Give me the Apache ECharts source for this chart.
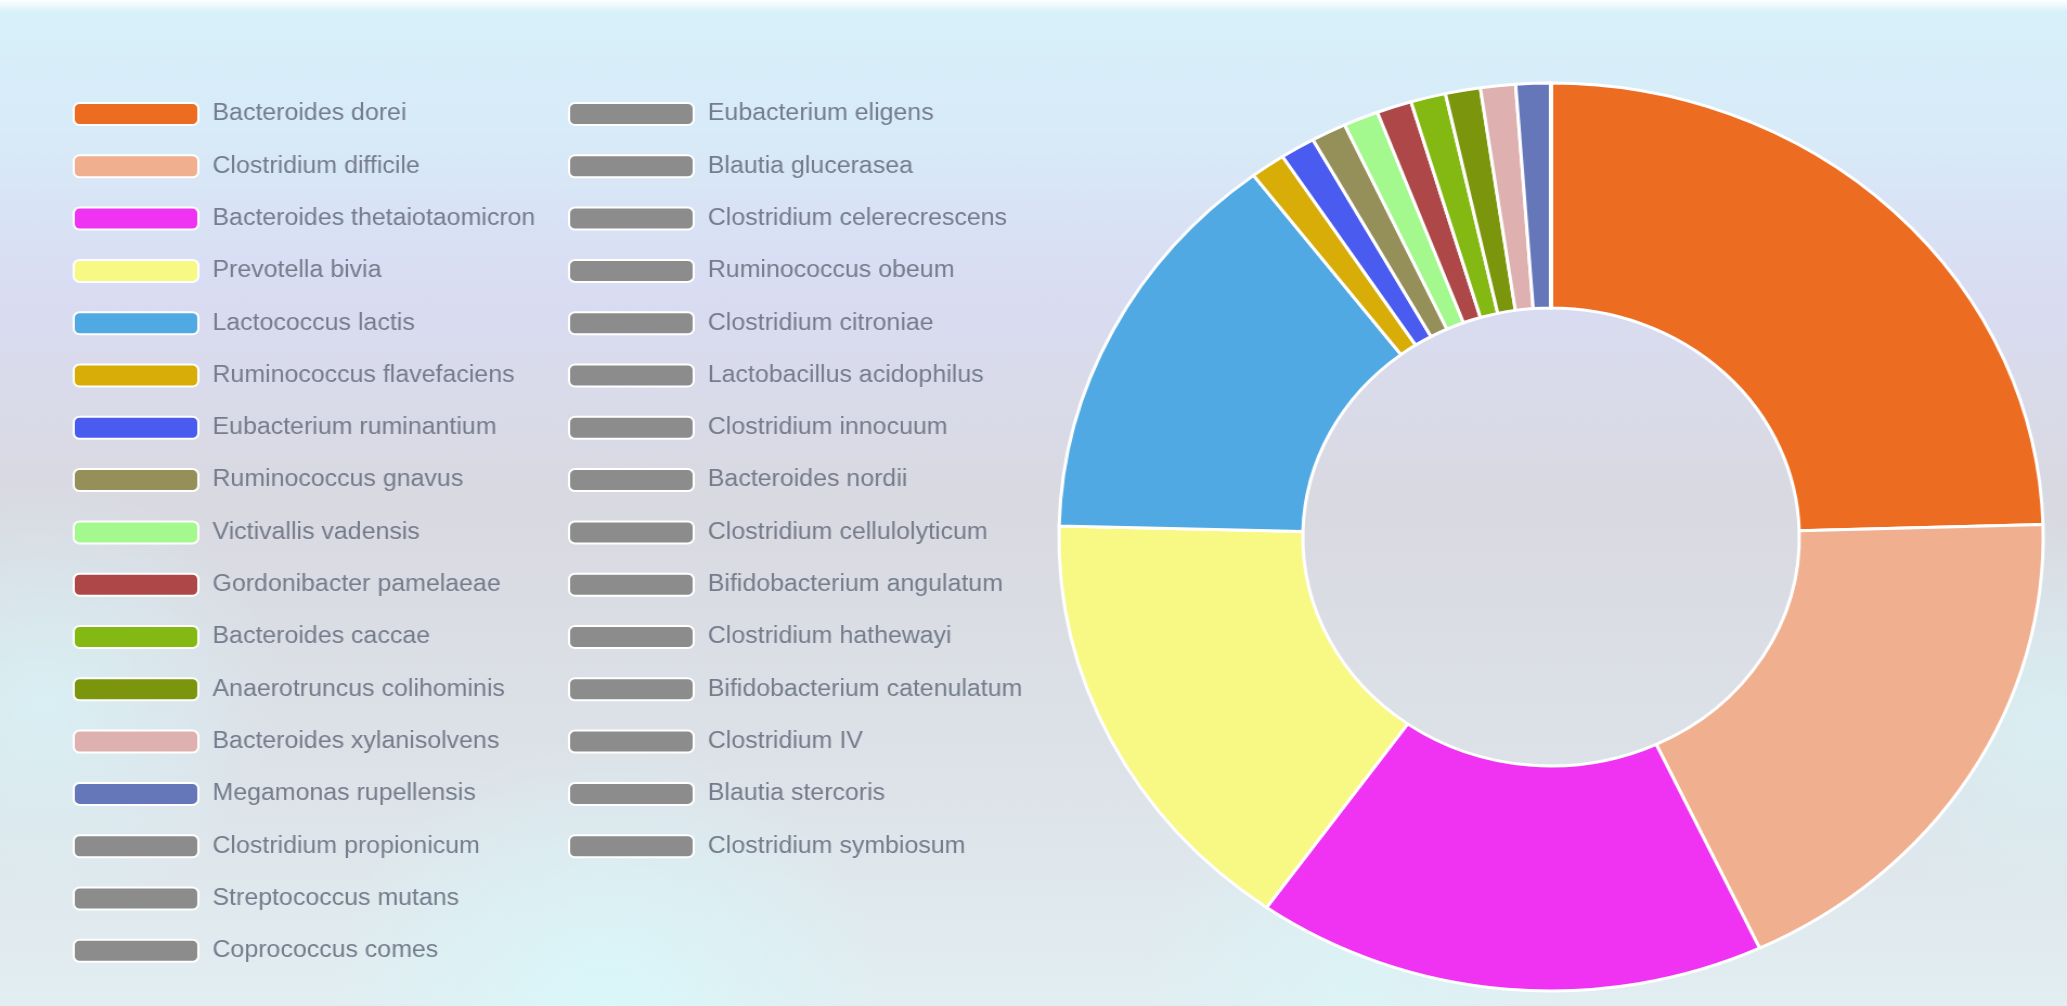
<!DOCTYPE html>
<html>
<head>
<meta charset="utf-8">
<script src="https://cdn.jsdelivr.net/npm/echarts@6/dist/echarts.min.js"></script>
<style>
html,body{margin:0;padding:0;overflow:hidden;background:#dadce4;}
#chart{width:1907px;height:1006px;transform:scaleX(1.0839);transform-origin:0 0;}
</style>
</head>
<body>
<div id="chart"></div>
<script>
const categories = [
  'Bacteroides dorei','Clostridium difficile','Bacteroides thetaiotaomicron','Prevotella bivia',
  'Lactococcus lactis','Ruminococcus flavefaciens','Eubacterium ruminantium','Ruminococcus gnavus',
  'Victivallis vadensis','Gordonibacter pamelaeae','Bacteroides caccae','Anaerotruncus colihominis',
  'Bacteroides xylanisolvens','Megamonas rupellensis','Clostridium propionicum','Streptococcus mutans',
  'Coprococcus comes','Eubacterium eligens','Blautia glucerasea','Clostridium celerecrescens',
  'Ruminococcus obeum','Clostridium citroniae','Lactobacillus acidophilus','Clostridium innocuum',
  'Bacteroides nordii','Clostridium cellulolyticum','Bifidobacterium angulatum','Clostridium hathewayi',
  'Bifidobacterium catenulatum','Clostridium IV','Blautia stercoris','Clostridium symbiosum'
];
const values = [
  24.6, 18.5, 16.8, 15.6,
  14.3, 1.15, 1.15, 1.15,
  1.15, 1.15, 1.15, 1.15,
  1.15, 1.15, 0, 0,
  0, 0, 0, 0,
  0, 0, 0, 0,
  0, 0, 0, 0,
  0, 0, 0, 0
];
const colors = [
  '#ec6c22','#f0af8f','#f032f3','#f8f884',
  '#50a9e2','#d9ad08','#4a5bf0','#958f5a',
  '#a3f88e','#ae4848','#84b812','#7b960c',
  '#dfb0b0','#6577b8','#8c8c8c','#8c8c8c',
  '#8c8c8c','#8c8c8c','#8c8c8c','#8c8c8c',
  '#8c8c8c','#8c8c8c','#8c8c8c','#8c8c8c',
  '#8c8c8c','#8c8c8c','#8c8c8c','#8c8c8c',
  '#8c8c8c','#8c8c8c','#8c8c8c','#8c8c8c'
];
const legendCol1 = categories.slice(0, 17);
const legendCol2 = categories.slice(17);

const chart = echarts.init(document.getElementById('chart'), null, {renderer: 'canvas'});

const legendBase = {
  orient: 'vertical',
  top: 102,
  padding: 0,
  itemWidth: 115,
  itemHeight: 22,
  itemGap: 28.3,
  icon: 'roundRect',
  selectedMode: false,
  itemStyle: {borderColor: '#ffffff', borderWidth: 2},
  textStyle: {
    fontFamily: 'Liberation Sans, Arial, sans-serif',
    fontSize: 23,
    lineHeight: 22,
    color: '#757c8c',
    padding: [0, 0, 0, 8]
  }
};

const option = {
  animation: false,
  backgroundColor: {
    type: 'linear', x: 0, y: 0, x2: 0, y2: 1,
    colorStops: [
      {offset: 0, color: '#ffffff'},
      {offset: 0.012, color: '#d7f1fa'},
      {offset: 0.13, color: '#d8ebf8'},
      {offset: 0.28, color: '#d9ddf3'},
      {offset: 0.5, color: '#d9d9e1'},
      {offset: 0.78, color: '#dde3e9'},
      {offset: 1, color: '#e2eef2'}
    ]
  },
  graphic: [
    {type: 'circle', z: -5, silent: true, shape: {cx: 560, cy: 1000, r: 260},
     style: {fill: {type: 'radial', x: 0.5, y: 0.5, r: 0.5,
       colorStops: [{offset: 0, color: 'rgba(215,250,252,0.75)'}, {offset: 1, color: 'rgba(215,250,252,0)'}]}}},
    {type: 'circle', z: -5, silent: true, shape: {cx: 40, cy: 700, r: 220},
     style: {fill: {type: 'radial', x: 0.5, y: 0.5, r: 0.5,
       colorStops: [{offset: 0, color: 'rgba(215,250,252,0.6)'}, {offset: 1, color: 'rgba(215,250,252,0)'}]}}},
    {type: 'circle', z: -5, silent: true, shape: {cx: 1890, cy: 720, r: 200},
     style: {fill: {type: 'radial', x: 0.5, y: 0.5, r: 0.5,
       colorStops: [{offset: 0, color: 'rgba(215,250,252,0.55)'}, {offset: 1, color: 'rgba(215,250,252,0)'}]}}},
    {type: 'circle', z: -5, silent: true, shape: {cx: 1250, cy: 980, r: 200},
     style: {fill: {type: 'radial', x: 0.5, y: 0.5, r: 0.5,
       colorStops: [{offset: 0, color: 'rgba(215,250,252,0.5)'}, {offset: 1, color: 'rgba(215,250,252,0)'}]}}}
  ],
  legend: [
    Object.assign({}, legendBase, {left: 67, data: legendCol1}),
    Object.assign({}, legendBase, {left: 524, data: legendCol2})
  ],
  series: [{
    type: 'pie',
    radius: [229, 454],
    center: [1431, 537],
    startAngle: 90,
    clockwise: true,
    avoidLabelOverlap: false,
    label: {show: false},
    labelLine: {show: false},
    emphasis: {disabled: true},
    itemStyle: {borderColor: '#ffffff', borderWidth: 3},
    data: categories.map((n, i) => ({name: n, value: values[i], itemStyle: {color: colors[i]}}))
  }]
};
chart.setOption(option);
</script>
</body>
</html>
